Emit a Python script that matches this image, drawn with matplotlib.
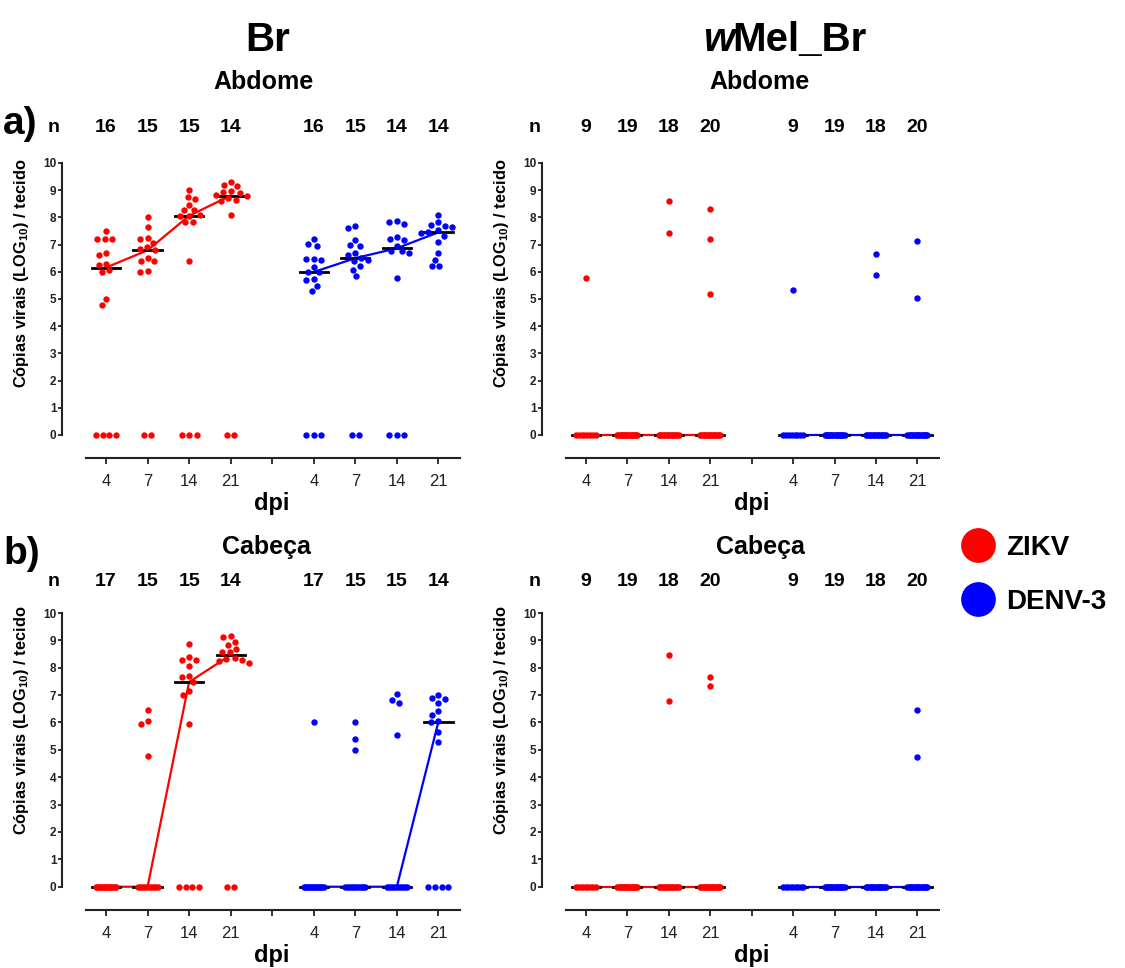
import numpy as np
import matplotlib
matplotlib.use('Agg')
import matplotlib.pyplot as plt
from matplotlib.lines import Line2D

plt.rcParams['font.family'] = 'Liberation Sans'
plt.rcParams['mathtext.fontset'] = 'custom'
plt.rcParams['mathtext.rm'] = 'Liberation Sans'
plt.rcParams['mathtext.bf'] = 'Liberation Sans:bold'

dpi_labels = ['4', '7', '14', '21']
colors = {'ZIKV': '#ff0000', 'DENV-3': '#0000ff'}

# only the positive values are listed; the rest of each n are zeros
br_abd_zikv = [[7.49, 7.22, 7.22, 7.22, 6.69, 6.63, 6.30, 6.26, 6.05, 6.00, 5.00, 4.77],
               [8.01, 7.65, 7.25, 7.20, 7.06, 6.90, 6.85, 6.79, 6.50, 6.38, 6.38, 6.02, 6.00],
               [9.02, 8.75, 8.68, 8.47, 8.28, 8.26, 8.10, 8.06, 8.04, 7.82, 7.82, 6.38],
               [9.30, 9.20, 9.14, 8.96, 8.92, 8.90, 8.82, 8.78, 8.70, 8.65, 8.59, 8.09]]
br_abd_zikv_n = [16, 15, 15, 14]
br_abd_denv = [[7.20, 7.02, 6.96, 6.47, 6.47, 6.45, 6.16, 6.00, 5.98, 5.74, 5.71, 5.49, 5.28],
               [7.67, 7.61, 7.18, 7.00, 6.96, 6.69, 6.63, 6.50, 6.45, 6.38, 6.20, 6.08, 5.83],
               [7.86, 7.82, 7.77, 7.27, 7.20, 7.18, 6.95, 6.78, 6.75, 6.70, 5.77],
               [8.10, 7.82, 7.73, 7.67, 7.63, 7.52, 7.48, 7.42, 7.33, 7.08, 6.69, 6.45, 6.23, 6.20]]
br_abd_denv_n = [16, 15, 14, 14]

wmel_abd_zikv = [[5.77], [], [8.59, 7.44], [8.30, 7.22, 5.20]]
wmel_abd_zikv_n = [9, 19, 18, 20]
wmel_abd_denv = [[5.33], [], [6.67, 5.88], [7.12, 5.02]]
wmel_abd_denv_n = [9, 19, 18, 20]

br_cab_zikv = [[],
               [6.46, 6.05, 5.95, 4.78],
               [8.87, 8.39, 8.29, 8.29, 8.07, 7.71, 7.66, 7.48, 7.16, 7.01, 5.93],
               [9.17, 9.12, 8.95, 8.83, 8.68, 8.56, 8.56, 8.37, 8.32, 8.29, 8.23, 8.17]]
br_cab_zikv_n = [17, 15, 15, 14]
br_cab_denv = [[6.01], [6.00, 5.40, 4.98], [7.05, 6.83, 6.73, 5.54],
               [7.00, 6.89, 6.85, 6.71, 6.43, 6.28, 6.06, 6.00, 5.67, 5.30]]
br_cab_denv_n = [17, 15, 15, 14]

wmel_cab_zikv = [[], [], [8.48, 6.77], [7.65, 7.34]]
wmel_cab_zikv_n = [9, 19, 18, 20]
wmel_cab_denv = [[], [], [], [6.46, 4.74]]
wmel_cab_denv_n = [9, 19, 18, 20]

W, H = 1125, 968
fig = plt.figure(figsize=(W / 100, H / 100), dpi=100)


def fx(px):
    return px / W


def fy(py):
    return 1 - py / H


def swarm(vals, ppx, ppy, d=7.5, cap=10):
    # simple beeswarm, returns x offsets in data units
    off = np.zeros(len(vals))
    zero = vals == 0
    k = int(zero.sum())
    if k > 1:
        w = min((k - 1) * d / 2, cap)
        off[zero] = np.linspace(-w, w, k)
    placed = []
    idx = np.where(~zero)[0]
    for i in idx[np.argsort(-vals[idx])]:
        y = vals[i] * ppy
        cands = [0.0]
        for px, py in placed:
            dy = abs(py - y)
            if dy < d:
                dx = np.sqrt(d * d - dy * dy)
                cands += [px - dx, px + dx]
        cands.sort(key=abs)
        for c in cands:
            if all((c - px) ** 2 + (y - py) ** 2 >= d * d - 1e-6 for px, py in placed):
                break
        placed.append((c, y))
        off[i] = c
    return off / ppx


def panel(rect, zikv, zikv_n, denv, denv_n, ylab_y):
    ax = fig.add_axes(rect)
    ax.set_xlim(-1.06, 8.52)
    ax.set_ylim(-0.85, 10)
    ppx = ax.bbox.width / 9.58
    ppy = ax.bbox.height / 10.85
    for g, (grp, ns, col) in enumerate([(zikv, zikv_n, colors['ZIKV']),
                                        (denv, denv_n, colors['DENV-3'])]):
        meds = []
        xs = []
        for j in range(4):
            vals = np.array(grp[j] + [0.0] * (ns[j] - len(grp[j])))
            x0 = g * 5 + j
            off = swarm(vals, ppx, ppy)
            ax.plot(x0 + off, vals, 'o', ms=4.6, color=col, mec='none', zorder=3, clip_on=False)
            med = np.median(vals)
            ax.plot([x0 - 0.34, x0 + 0.34], [med, med], color='black', lw=2, zorder=2.8)
            meds.append(med)
            xs.append(x0)
        ax.plot(xs, meds, color=col, lw=1.6, zorder=2.5)
    for s in ['top', 'right']:
        ax.spines[s].set_visible(False)
    ax.spines['left'].set_bounds(0, 10)
    ax.spines['bottom'].set_bounds(-0.48, 8.52)
    for s in ['left', 'bottom']:
        ax.spines[s].set_linewidth(1.5)
        ax.spines[s].set_color('#222222')
    ax.set_yticks(range(11))
    ax.set_yticklabels([str(i) for i in range(11)], fontsize=8.5, fontweight='bold')
    ax.tick_params(axis='y', length=3, width=1.3, pad=1, colors='#222222')
    ax.set_xticks(range(9))
    ax.set_xticklabels(dpi_labels + [''] + dpi_labels, fontsize=12)
    ax.tick_params(axis='x', length=4.5, width=1.3, pad=7, colors='#222222')
    ax.set_ylabel(r'Cópias virais (LOG$_{\mathbf{10}}$) / tecido', fontsize=11.8, fontweight='bold')
    ax.yaxis.set_label_coords(-0.078, ylab_y)
    ax.set_xlabel('dpi', fontsize=17, fontweight='bold')
    ax.xaxis.set_label_coords(0.528, -0.115)
    return ax


ax1 = panel([fx(62), fy(458), (460 - 62) / W, (458 - 163) / H],
            br_abd_zikv, br_abd_zikv_n, br_abd_denv, br_abd_denv_n, 0.625)
ax2 = panel([fx(542), fy(458), (939 - 542) / W, (458 - 163) / H],
            wmel_abd_zikv, wmel_abd_zikv_n, wmel_abd_denv, wmel_abd_denv_n, 0.625)
ax3 = panel([fx(62), fy(910), (460 - 62) / W, (910 - 613) / H],
            br_cab_zikv, br_cab_zikv_n, br_cab_denv, br_cab_denv_n, 0.64)
ax4 = panel([fx(542), fy(910), (939 - 542) / W, (910 - 613) / H],
            wmel_cab_zikv, wmel_cab_zikv_n, wmel_cab_denv, wmel_cab_denv_n, 0.64)

# n counts above each column
for ax, zn, dn, ypx in [(ax1, br_abd_zikv_n, br_abd_denv_n, 127),
                        (ax2, wmel_abd_zikv_n, wmel_abd_denv_n, 127),
                        (ax3, br_cab_zikv_n, br_cab_denv_n, 582),
                        (ax4, wmel_cab_zikv_n, wmel_cab_denv_n, 582)]:
    trans = matplotlib.transforms.blended_transform_factory(ax.transData, fig.transFigure)
    for j, n in enumerate(zn + dn):
        x = j if j < 4 else j + 1
        ax.text(x, fy(ypx), str(n), transform=trans, ha='center', va='center',
                fontsize=14, fontweight='bold')
    ax.text(-1.25, fy(ypx), 'n', transform=trans, ha='center', va='center',
            fontsize=14, fontweight='bold')

# titles
fig.text(fx(268), fy(40), 'Br', ha='center', va='center', fontsize=29, fontweight='bold')
fig.text(fx(703), fy(40), 'w', ha='left', va='center', fontsize=29, fontweight='bold', style='italic')
fig.text(fx(732), fy(40), 'Mel_Br', ha='left', va='center', fontsize=29, fontweight='bold')
fig.text(fx(264), fy(82), 'Abdome', ha='center', va='center', fontsize=18, fontweight='bold')
fig.text(fx(760), fy(82), 'Abdome', ha='center', va='center', fontsize=18, fontweight='bold')
fig.text(fx(266), fy(547), 'Cabeça', ha='center', va='center', fontsize=18, fontweight='bold')
fig.text(fx(760), fy(547), 'Cabeça', ha='center', va='center', fontsize=18, fontweight='bold')
fig.text(fx(3), fy(124), 'a)', ha='left', va='center', fontsize=28, fontweight='bold')
fig.text(fx(3), fy(554), 'b)', ha='left', va='center', fontsize=28, fontweight='bold')

handles = [Line2D([], [], ls='', marker='o', ms=25, color=c, mec='none') for c in colors.values()]
fig.legend(handles, list(colors.keys()), loc='center left', bbox_to_anchor=(fx(946), fy(575)),
           frameon=False, prop={'size': 20, 'weight': 'bold'}, handletextpad=0.35,
           labelspacing=1.0, borderpad=0, handlelength=1.3)

fig.savefig('out.png', dpi=100)
